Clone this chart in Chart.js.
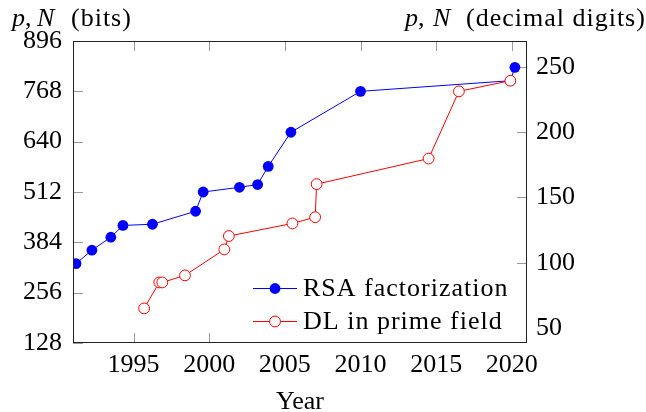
<!DOCTYPE html>
<html>
<head>
<meta charset="utf-8">
<script src="https://cdn.jsdelivr.net/npm/chart.js@4/dist/chart.umd.min.js"></script>
<style>
  html, body { margin: 0; padding: 0; background: #fff; }
  canvas { display: block; }
</style>
</head>
<body>
<canvas id="c" width="646" height="412"></canvas>
<script>
// ---- data ----
const rsaYears = [1991.2, 1992.25, 1993.5, 1994.3, 1996.25, 1999.1, 1999.6, 2002.0, 2003.2, 2003.9, 2005.4, 2010.0, 2019.9, 2020.2];
const rsaBits  = [330, 364, 397, 427, 430, 463, 512, 524, 531, 577, 664, 768, 795, 829];
const dlYears  = [1995.7, 1996.7, 1996.9, 1998.4, 2001.0, 2001.3, 2005.5, 2007.0, 2007.1, 2014.5, 2016.5, 2019.9];
const dlBits   = [216, 282, 282, 300, 366, 400, 432, 448, 532, 597, 768, 795];
const xTicks      = [1995, 2000, 2005, 2010, 2015, 2020];
const bitsTicks   = [128, 256, 384, 512, 640, 768, 896];
const digitsTicks = [50, 100, 150, 200, 250];
const seriesLabels = ['RSA factorization', 'DL in prime field'];

const FS = 26;
const LOG2 = Math.log10(2);
const SERIF = '"Liberation Serif", "DejaVu Serif", serif';

const framePlugin = {
  id: 'frame',
  beforeDatasetsDraw(chart) {
    const {ctx, chartArea: a, scales} = chart;
    ctx.save();
    ctx.strokeStyle = '#9a9a9a';
    ctx.lineWidth = 1;
    const L = 10;
    ctx.beginPath();
    scales.x.ticks.forEach(t => {
      const px = Math.round(scales.x.getPixelForValue(t.value)) + 0.5;
      ctx.moveTo(px, a.top); ctx.lineTo(px, a.top + L);
      ctx.moveTo(px, a.bottom); ctx.lineTo(px, a.bottom - L);
    });
    scales.y.ticks.forEach(t => {
      const py = Math.round(scales.y.getPixelForValue(t.value)) + 0.5;
      ctx.moveTo(a.left, py); ctx.lineTo(a.left + L, py);
    });
    scales.y2.ticks.forEach(t => {
      const py = Math.round(scales.y2.getPixelForValue(t.value)) + 0.5;
      ctx.moveTo(a.right, py); ctx.lineTo(a.right - L, py);
    });
    ctx.stroke();
    ctx.restore();
  },
  afterDatasetsDraw(chart) {
    const {ctx, chartArea: a} = chart;
    ctx.save();
    // legend box (white, no border) in the lower right corner
    const lx = 243, ly = 268;
    ctx.fillStyle = '#fff';
    ctx.fillRect(lx, ly, a.right - lx, a.bottom - ly);
    const rows = [288, 321];
    chart.data.datasets.forEach((ds, i) => {
      const y = rows[i];
      ctx.strokeStyle = ds.borderColor;
      ctx.lineWidth = 1;
      ctx.beginPath(); ctx.moveTo(253, y + 0.5); ctx.lineTo(297, y + 0.5); ctx.stroke();
      ctx.beginPath();
      ctx.arc(275, y + 0.5, ds.pointRadius, 0, Math.PI * 2);
      ctx.fillStyle = ds.pointBackgroundColor;
      ctx.fill();
      if (ds.pointBorderWidth > 0) { ctx.lineWidth = ds.pointBorderWidth; ctx.strokeStyle = ds.pointBorderColor; ctx.stroke(); }
      ctx.fillStyle = '#000';
      ctx.font = FS + 'px ' + SERIF;
      ctx.letterSpacing = '1px';
      ctx.textBaseline = 'middle';
      ctx.textAlign = 'left';
      ctx.fillText(ds.label, 303, y + 1);
      ctx.letterSpacing = '0px';
    });
    // frame
    ctx.strokeStyle = '#222';
    ctx.lineWidth = 1;
    ctx.strokeRect(a.left + 0.5, a.top + 0.5, a.right - a.left - 1, a.bottom - a.top - 1);
    ctx.restore();
  },
  afterDraw(chart) {
    const {ctx} = chart;
    ctx.save();
    ctx.fillStyle = '#000';
    ctx.textBaseline = 'alphabetic';
    ctx.textAlign = 'left';
    const it = 'italic ' + FS + 'px ' + SERIF;
    const up = FS + 'px ' + SERIF;
    function title(x0, nX, restX, rest) {
      const base = 26;
      ctx.font = it; ctx.fillText('p', x0, base);
      ctx.font = up; ctx.fillText(',', x0 + 13, base);
      ctx.font = it; ctx.fillText('N', nX, base);
      ctx.font = up; ctx.letterSpacing = '1px'; ctx.fillText(rest, restX, base); ctx.letterSpacing = '0px';
    }
    title(12, 37, 71, '(bits)');
    title(405, 433, 466, '(decimal digits)');
    ctx.restore();
  }
};

const tickFont = {family: SERIF, size: FS, lineHeight: 1.2};

function build() {
  new Chart(document.getElementById('c'), {
    type: 'scatter',
    data: {
      datasets: [
        {
          label: seriesLabels[0],
          data: rsaYears.map((x, i) => ({x, y: rsaBits[i]})),
          showLine: true,
          borderColor: '#0000ff',
          borderWidth: 1,
          pointRadius: 5.4,
          pointBackgroundColor: '#0000ff',
          pointBorderColor: '#0000ff',
          pointBorderWidth: 0,
          yAxisID: 'y',
          order: 2
        },
        {
          label: seriesLabels[1],
          data: dlYears.map((x, i) => ({x, y: dlBits[i]})),
          showLine: true,
          borderColor: '#ff0000',
          borderWidth: 1,
          pointRadius: 5.4,
          pointBackgroundColor: '#ffffff',
          pointBorderColor: '#ff0000',
          pointBorderWidth: 1,
          yAxisID: 'y',
          order: 1
        }
      ]
    },
    options: {
      responsive: false,
      animation: false,
      layout: {padding: {top: 41, left: 0, right: 0, bottom: 0}},
      plugins: {legend: {display: false}, tooltip: {enabled: false}},
      scales: {
        x: {
          type: 'linear', position: 'bottom', min: 1991, max: 2021,
          afterBuildTicks: s => { s.ticks = xTicks.map(v => ({value: v})); },
          ticks: {font: tickFont, color: '#000', padding: 7, maxRotation: 0, autoSkip: false, callback: v => String(v)},
          grid: {display: false, drawTicks: false},
          border: {display: false},
          title: {display: true, text: 'Year', font: {family: SERIF, size: FS, lineHeight: 0.75}, color: '#000', padding: {top: 0, bottom: 0}},
          afterFit: s => { s.height = 69; }
        },
        y: {
          type: 'linear', position: 'left', min: 128, max: 896,
          afterBuildTicks: s => { s.ticks = bitsTicks.map(v => ({value: v})); },
          ticks: {font: tickFont, color: '#000', padding: 11, autoSkip: false, callback: v => String(v)},
          grid: {display: false, drawTicks: false},
          border: {display: false},
          afterFit: s => { s.width = 73; }
        },
        y2: {
          type: 'linear', position: 'right', min: 128 * LOG2, max: 896 * LOG2,
          afterBuildTicks: s => { s.ticks = digitsTicks.map(v => ({value: v})); },
          ticks: {font: tickFont, color: '#000', padding: 9, autoSkip: false, callback: v => String(v)},
          grid: {display: false, drawTicks: false},
          border: {display: false},
          afterFit: s => { s.width = 119; }
        }
      }
    },
    plugins: [framePlugin]
  });
}

Promise.all([
  document.fonts.load(FS + 'px "Liberation Serif"'),
  document.fonts.load('italic ' + FS + 'px "Liberation Serif"')
]).then(build, build);
</script>
</body>
</html>
